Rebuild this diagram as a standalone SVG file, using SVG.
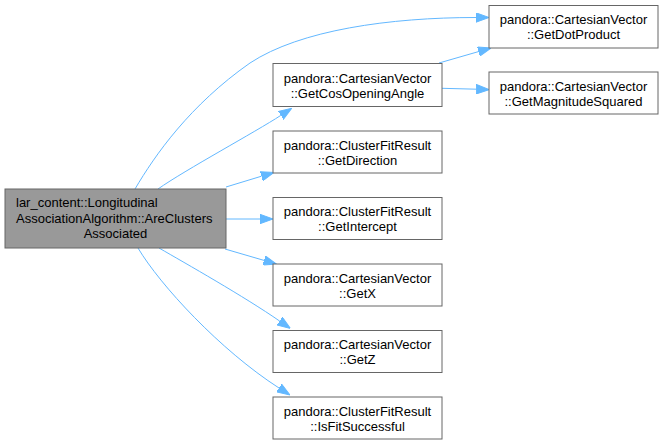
<svg xmlns="http://www.w3.org/2000/svg" width="664" height="445" viewBox="0 0 664 445">
<style>
  .box { fill: #ffffff; stroke: #666666; stroke-width: 1; }
  .hl { fill: #999999; stroke: #666666; stroke-width: 1; }
  text { font-family: "Liberation Sans", Arial, sans-serif; font-size: 13px; fill: #000000; }
  .m { text-anchor: middle; }
  .s { text-anchor: start; }
  .edge { fill: none; stroke: #63b8ff; stroke-width: 1; marker-end: url(#arr); }
</style>
<defs>
  <marker id="arr" markerUnits="userSpaceOnUse" viewBox="0 0 13 10" markerWidth="13" markerHeight="10" refX="0" refY="5" orient="auto">
    <path d="M0,0.3 L13,5 L0,9.7 z" fill="#63b8ff" stroke="#63b8ff" stroke-width="1"/>
  </marker>
</defs>
<rect width="664" height="445" fill="#ffffff"/>
<g id="connectors">
  <path class="edge" d="M135,189 C155,155 190,105 250,63 C300,30 390,17.5 476,17.5"/>
  <path class="edge" d="M158,189 C185,170 255.7,131.8 280.8,115.4"/>
  <path class="edge" d="M226,187 L261.5,176.2"/>
  <path class="edge" d="M226,219 L260,219"/>
  <path class="edge" d="M225,249 L264,260.4"/>
  <path class="edge" d="M159,248 C185,263 245,297 279.7,321.1"/>
  <path class="edge" d="M138,248 C160,285 220,350 279,388"/>
  <path class="edge" d="M439,63 L478.5,51.6"/>
  <path class="edge" d="M442,88.3 L476.3,89.2"/>
</g>
<g id="node-main">
  <rect class="hl" x="5" y="189" width="221" height="59"/>
  <text class="s" x="16" y="207">lar_content::Longitudinal</text>
  <text class="s" x="16" y="222.5">AssociationAlgorithm::AreClusters</text>
  <text class="m" x="115.5" y="237.5">Associated</text>
</g>
<g id="node-getdotproduct">
  <rect class="box" x="489" y="5.5" width="169" height="42.5"/>
  <text class="m" x="573.5" y="24.2">pandora::CartesianVector</text>
  <text class="m" x="573.5" y="39.2">::GetDotProduct</text>
</g>
<g id="node-getmagnitudesquared">
  <rect class="box" x="489" y="72" width="169" height="42"/>
  <text class="m" x="573.5" y="90.5">pandora::CartesianVector</text>
  <text class="m" x="573.5" y="105.5">::GetMagnitudeSquared</text>
</g>
<g id="node-getcosopeningangle">
  <rect class="box" x="273" y="63.5" width="169" height="43"/>
  <text class="m" x="357.5" y="82.5">pandora::CartesianVector</text>
  <text class="m" x="357.5" y="97.5">::GetCosOpeningAngle</text>
</g>
<g id="node-getdirection">
  <rect class="box" x="273" y="131" width="169" height="42"/>
  <text class="m" x="357.5" y="149.5">pandora::ClusterFitResult</text>
  <text class="m" x="357.5" y="164.5">::GetDirection</text>
</g>
<g id="node-getintercept">
  <rect class="box" x="273" y="197.5" width="169" height="42"/>
  <text class="m" x="357.5" y="216">pandora::ClusterFitResult</text>
  <text class="m" x="357.5" y="231">::GetIntercept</text>
</g>
<g id="node-getx">
  <rect class="box" x="273" y="264" width="169" height="42"/>
  <text class="m" x="357.5" y="282.5">pandora::CartesianVector</text>
  <text class="m" x="357.5" y="297.5">::GetX</text>
</g>
<g id="node-getz">
  <rect class="box" x="273" y="330.5" width="169" height="42"/>
  <text class="m" x="357.5" y="349">pandora::CartesianVector</text>
  <text class="m" x="357.5" y="364">::GetZ</text>
</g>
<g id="node-isfitsuccessful">
  <rect class="box" x="273" y="397" width="169" height="42"/>
  <text class="m" x="357.5" y="415.5">pandora::ClusterFitResult</text>
  <text class="m" x="357.5" y="430.5">::IsFitSuccessful</text>
</g>
</svg>
